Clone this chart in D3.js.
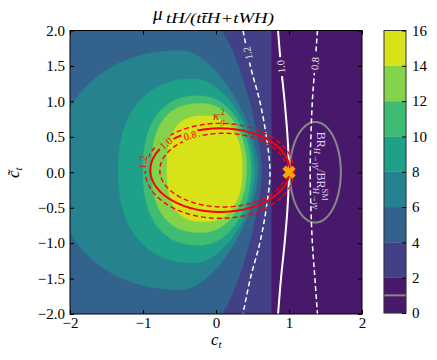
<!DOCTYPE html>
<html><head><meta charset="utf-8">
<script src="https://cdn.jsdelivr.net/npm/d3@7"></script>
<style>body{margin:0;background:#fff}svg{display:block}</style>
</head><body><svg id="chart" width="437" height="360"></svg>
<script>
// ---------------- data ----------------
const bandLevels = [0, 2, 4, 6, 8, 10, 12, 14, 16];
const cbarTicks  = [0, 2, 4, 6, 8, 10, 12, 14, 16];
const xTicks = [-2, -1, 0, 1, 2];
const yTicks = [-2, -1.5, -1, -0.5, 0, 0.5, 1, 1.5, 2];

// mu = 2 boundary: vertical edge in c_t
const level2Edge = 0.76;

// mu contour shapes (levels 4..14): centre, left/right/vertical radii, shape exponents
const shapeLevel = [4, 6, 8, 10, 12, 14];
const shapeCx = [0.00, -0.45, -0.30, -0.22, -0.20, -0.15];
const shapeCy = [0.00, 0.03, 0.02, 0.025, 0.06, 0.05];
const shapeRl = [null, 1.75, 1.04, 0.78, 0.68, 0.52];
const shapeRr = [0.63, 1.03, 0.83, 0.70, 0.62, 0.51];
const shapeRy = [2.08, 1.69, 1.30, 1.055, 0.91, 0.745];
const shapePl = [null, 2.2, 2.3, 2.4, 2.5, 2.7];
const shapePr = [1.4, 1.6, 1.8, 2.0, 2.1, 2.3];

// kappa_g^2 contours (red ellipses)
const kgLevels = [0.8, 1.0, 1.2];
const kgCx = [0.10, 0.055, 0.05];
const kgCy = [0.03, 0.03, 0.02];
const kgRx = [0.87, 0.955, 1.02];
const kgRy = [0.52, 0.59, 0.67];
const kgLabelC  = [-0.356, -0.685, -1.0];
const kgLabelCt = [0.52, 0.41, 0.14];

// kappa_gamma contours (white lines): c_t values at given c~_t
const kgamCt = [2, 1.5, 1, 0.5, 0, -0.5, -1, -1.5, -2];
const kgam12 = [0.37, 0.47, 0.60, 0.69, 0.74, 0.69, 0.60, 0.47, 0.37];
const kgam10 = [0.85, 0.89, 0.94, 0.98, 1.00, 0.98, 0.94, 0.89, 0.85];
const kgam08 = [1.39, 1.355, 1.32, 1.30, 1.29, 1.30, 1.32, 1.355, 1.39];
const kgamLevels = ["1.2", "1.0", "0.8"];
const kgamLabelCt = [1.68, 1.49, 1.535];

// BR(H->gamma gamma) ratio = 1 contour (grey ellipse)
const brCx = [1.36], brCy = [0.0], brRx = [0.35], brRy = [0.71];
const brLevel = [1.0];

// SM point
const smPoint = [[1, 0]];

// ---------------- drawing ----------------
const svg = d3.select("#chart");
const L = 70, R = 362, T = 30.5, B = 314;
const x = d3.scaleLinear().domain([-2, 2]).range([L, R]);
const y = d3.scaleLinear().domain([-2, 2]).range([B, T]);
const bandColor = i => d3.interpolateViridis((2 * i + 1) / 16);
const FONT = "'Liberation Serif', 'DejaVu Serif', serif";

const defs = svg.append("defs");
defs.append("clipPath").attr("id", "plotClip")
  .append("rect").attr("x", L).attr("y", T).attr("width", R - L).attr("height", B - T);

const pw = (v, e) => Math.sign(v) * Math.pow(Math.abs(v), e);
function shapePoints(i) {
  const pts = [], N = 240;
  const cx = shapeCx[i], cy = shapeCy[i], ry = shapeRy[i];
  const open = shapeRl[i] === null;
  const a0 = open ? -Math.PI / 2 : 0, a1 = open ? Math.PI / 2 : 2 * Math.PI;
  for (let k = 0; k <= N; k++) {
    const t = a0 + (a1 - a0) * k / N;
    const c = Math.cos(t), s = Math.sin(t);
    const right = c >= 0;
    const r = right ? shapeRr[i] : shapeRl[i];
    const p = right ? shapePr[i] : shapePl[i];
    pts.push([cx + r * pw(c, 2 / p), cy + ry * pw(s, 2 / p)]);
  }
  if (open) { pts.push([-3, cy + ry]); pts.push([-3, cy - ry]); }
  return pts;
}
function ellipsePoints(cx, cy, rx, ry) {
  const pts = [];
  for (let k = 0; k < 180; k++) {
    const t = 2 * Math.PI * k / 180;
    pts.push([cx + rx * Math.cos(t), cy + ry * Math.sin(t)]);
  }
  return pts;
}
const closedLine = d3.line().x(d => x(d[0])).y(d => y(d[1])).curve(d3.curveLinearClosed);
const openLine = d3.line().x(d => x(d[0])).y(d => y(d[1])).curve(d3.curveCatmullRom.alpha(0.5));

const plot = svg.append("g").attr("clip-path", "url(#plotClip)");
plot.append("rect").attr("x", L).attr("y", T).attr("width", R - L).attr("height", B - T)
  .attr("fill", bandColor(0));
plot.append("rect").attr("x", x(-2.1)).attr("y", y(2.1))
  .attr("width", x(level2Edge) - x(-2.1)).attr("height", y(-2.1) - y(2.1))
  .attr("fill", bandColor(1));
shapeLevel.forEach((lv, i) => {
  const col = bandColor(bandLevels.indexOf(lv));
  plot.append("path").attr("d", closedLine(shapePoints(i)))
    .attr("fill", col).attr("stroke", col).attr("stroke-width", 0.4);
});

function labelMask(id, items) {
  const m = defs.append("mask").attr("id", id).attr("maskUnits", "userSpaceOnUse")
    .attr("x", 0).attr("y", 0).attr("width", 437).attr("height", 360);
  m.append("rect").attr("x", 0).attr("y", 0).attr("width", 437).attr("height", 360).attr("fill", "#fff");
  items.forEach(it => {
    m.append("rect").attr("x", -it.w / 2).attr("y", -5).attr("width", it.w).attr("height", 10)
      .attr("fill", "#000").attr("transform", `translate(${it.px},${it.py}) rotate(${it.rot})`);
  });
}

// grey BR ellipse
brCx.forEach((c, i) => {
  plot.append("path").attr("d", closedLine(ellipsePoints(c, brCy[i], brRx[i], brRy[i])))
    .attr("fill", "none").attr("stroke", "#888").attr("stroke-width", 2);
});

// white kappa_gamma lines
const kgamSeries = [kgam12, kgam10, kgam08];
const wRot = [-102, -95, -86];
const interpC = (arr, ct) => {
  for (let k = 0; k < kgamCt.length - 1; k++) {
    const a = kgamCt[k], b = kgamCt[k + 1];
    if (ct <= a && ct >= b) return arr[k] + (arr[k + 1] - arr[k]) * (ct - a) / (b - a);
  }
  return arr[0];
};
const wLabels = kgamSeries.map((s, i) => ({
  px: x(interpC(s, kgamLabelCt[i])), py: y(kgamLabelCt[i]), rot: wRot[i], w: 19, t: kgamLevels[i]
}));
labelMask("wMask", wLabels);
const wg = plot.append("g").attr("mask", "url(#wMask)");
kgamSeries.forEach((s, i) => {
  wg.append("path").attr("d", openLine(s.map((c, k) => [c, kgamCt[k]])))
    .attr("fill", "none").attr("stroke", "#fff")
    .attr("stroke-width", i === 1 ? 2 : 1.5)
    .attr("stroke-dasharray", i === 1 ? null : "5,3");
});
wLabels.forEach(l => {
  plot.append("text").attr("transform", `translate(${l.px},${l.py}) rotate(${l.rot})`)
    .attr("text-anchor", "middle").attr("dy", "0.35em")
    .attr("font-family", FONT).attr("font-size", 10.5).attr("fill", "#e6e6e6").text(l.t);
});

// red kappa_g lines
const rRot = [-15, -40, -85];
const rLabels = kgLevels.map((lv, i) => ({
  px: x(kgLabelC[i]), py: y(kgLabelCt[i]), rot: rRot[i], w: 17, t: lv.toFixed(1)
}));
labelMask("rMask", rLabels);
const rg = plot.append("g").attr("mask", "url(#rMask)");
kgLevels.forEach((lv, i) => {
  rg.append("path").attr("d", closedLine(ellipsePoints(kgCx[i], kgCy[i], kgRx[i], kgRy[i])))
    .attr("fill", "none").attr("stroke", "#ff0000")
    .attr("stroke-width", lv === 1.0 ? 2 : 1.4)
    .attr("stroke-dasharray", lv === 1.0 ? null : "5,3");
});
rLabels.forEach(l => {
  plot.append("text").attr("transform", `translate(${l.px},${l.py}) rotate(${l.rot})`)
    .attr("text-anchor", "middle").attr("dy", "0.35em")
    .attr("font-family", FONT).attr("font-size", 10.5).attr("fill", "#ff0000").text(l.t);
});
const kl = plot.append("g").attr("transform", `translate(${x(-0.04)},${y(0.74)})`).attr("fill", "#e01010")
  .attr("font-family", FONT);
kl.append("text").attr("x", 0).attr("y", 0).attr("font-size", 13).attr("font-style", "italic").text("κ");
kl.append("text").attr("x", 7.5).attr("y", -5).attr("font-size", 8.5).text("2");
kl.append("text").attr("x", 7.5).attr("y", 4).attr("font-size", 8.5).attr("font-style", "italic").text("g");

// BR label (rotated)
const brl = plot.append("text")
  .attr("transform", `translate(${x(1.385)},${y(0.57)}) rotate(90)`)
  .attr("font-family", FONT).attr("fill", "#d8d0ea").attr("font-size", 12);
brl.append("tspan").text("BR");
brl.append("tspan").attr("font-size", 8.5).attr("dy", 3).attr("font-style", "italic").text("H→γγ");
brl.append("tspan").attr("dy", -3).text("/BR");
brl.append("tspan").attr("font-size", 8.5).attr("dy", -5).text("SM");
brl.append("tspan").attr("font-size", 8.5).attr("dx", -13).attr("dy", 9).attr("font-style", "italic").text("H→γγ");

// SM point marker
plot.selectAll(".sm").data(smPoint).enter().append("path")
  .attr("d", d3.symbol().type(d3.symbolCross).size(100)())
  .attr("transform", d => `translate(${x(d[0])},${y(d[1])}) rotate(45)`)
  .attr("fill", "#ffa500").attr("stroke", "#ffa500").attr("stroke-width", 0.5);

// frame
svg.append("rect").attr("x", L).attr("y", T).attr("width", R - L).attr("height", B - T)
  .attr("fill", "none").attr("stroke", "#000").attr("stroke-width", 1);

// axes
const fmtX = d3.format("d");
const styleAxis = g => {
  g.select(".domain").remove();
  g.selectAll("line").attr("stroke", "#000");
  g.selectAll("text").attr("font-family", FONT).attr("font-size", 15).attr("fill", "#000");
};
svg.append("g").attr("transform", `translate(0,${B})`)
  .call(d3.axisBottom(x).tickValues(xTicks).tickFormat(d => fmtX(d).replace("-", "−")).tickSizeInner(-4).tickSizeOuter(0).tickPadding(3))
  .call(styleAxis);
svg.append("g").attr("transform", `translate(0,${T})`)
  .call(d3.axisTop(x).tickValues(xTicks).tickFormat("").tickSizeInner(-4).tickSizeOuter(0))
  .call(styleAxis);
svg.append("g").attr("transform", `translate(${L},0)`)
  .call(d3.axisLeft(y).tickValues(yTicks).tickFormat(d => d3.format(".1f")(d).replace("-", "−")).tickSizeInner(-4).tickSizeOuter(0).tickPadding(5))
  .call(styleAxis);
svg.append("g").attr("transform", `translate(${R},0)`)
  .call(d3.axisRight(y).tickValues(yTicks).tickFormat("").tickSizeInner(-4).tickSizeOuter(0))
  .call(styleAxis);

// axis labels
const xl = svg.append("text").attr("x", 211).attr("y", 345).attr("font-family", FONT).attr("fill", "#000");
xl.append("tspan").attr("font-size", 17).attr("font-style", "italic").text("c");
xl.append("tspan").attr("font-size", 11).attr("font-style", "italic").attr("dy", 3).text("t");
const yl = svg.append("text").attr("transform", "translate(19,178) rotate(-90)").attr("font-family", FONT).attr("fill", "#000");
yl.append("tspan").attr("font-size", 17).attr("font-style", "italic").text("c\u0303");
yl.append("tspan").attr("font-size", 11).attr("font-style", "italic").attr("dy", 3).text("t");

// title
svg.append("text").attr("x", 153).attr("y", 20).attr("font-family", FONT).attr("font-size", 19)
  .attr("font-style", "italic").attr("fill", "#000").text("μ");
svg.append("text").attr("x", 166).attr("y", 23).attr("font-family", FONT).attr("font-size", 14.5)
  .attr("font-style", "italic").attr("fill", "#000").attr("textLength", 108).attr("lengthAdjust", "spacingAndGlyphs")
  .text("tH/(tt\u0304H+tWH)");

// colorbar
const CL = 384, CR = 406;
const cy = d3.scaleLinear().domain([0, 16]).range([313, 30.5]);
const cb = svg.append("g");
d3.range(bandLevels.length - 1).forEach(i => {
  cb.append("rect").attr("x", CL).attr("y", cy(bandLevels[i + 1])).attr("width", CR - CL)
    .attr("height", cy(bandLevels[i]) - cy(bandLevels[i + 1])).attr("fill", bandColor(i))
    .attr("stroke", bandColor(i)).attr("stroke-width", 0.3);
});
brLevel.forEach(v => {
  cb.append("line").attr("x1", CL).attr("x2", CR).attr("y1", cy(v)).attr("y2", cy(v))
    .attr("stroke", "#888").attr("stroke-width", 2);
});
cb.append("rect").attr("x", CL).attr("y", cy(16)).attr("width", CR - CL).attr("height", cy(0) - cy(16))
  .attr("fill", "none").attr("stroke", "#333").attr("stroke-width", 1);
svg.append("g").attr("transform", `translate(${CR},0)`)
  .call(d3.axisRight(cy).tickValues(cbarTicks).tickFormat(d3.format("d")).tickSizeInner(-4).tickSizeOuter(0).tickPadding(6))
  .call(styleAxis);
</script></body></html>
